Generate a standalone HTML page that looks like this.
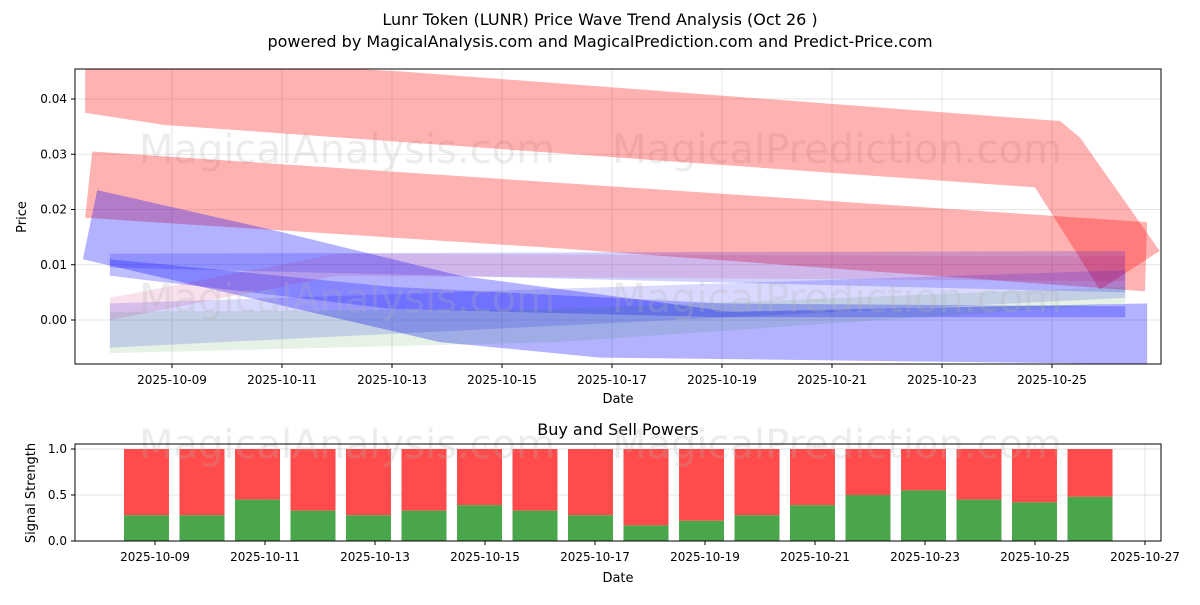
<!DOCTYPE html>
<html><head><meta charset="utf-8"><style>
body{margin:0;background:#fff}
svg{font-family:"DejaVu Sans","Liberation Sans",sans-serif}
</style></head><body>
<svg id="c" width="1200" height="600" viewBox="0 0 1200 600" xmlns="http://www.w3.org/2000/svg">
<text x="600" y="25" font-size="16" text-anchor="middle">Lunr Token (LUNR) Price Wave Trend Analysis (Oct 26 )</text>
<text x="600" y="47" font-size="16" text-anchor="middle">powered by MagicalAnalysis.com and MagicalPrediction.com and Predict-Price.com</text>
<defs><clipPath id="cp1"><rect x="75" y="69" width="1086" height="295"/></clipPath></defs>
<g id="pricePanel"></g>
<g id="signalPanel"></g>
</svg>
<script>
// price chart data (x = day of October 2025, y = price)
const priceTicks=[0.00,0.01,0.02,0.03,0.04];
const dateTicksTop=[9,11,13,15,17,19,21,23,25];
const bands=[
 {c:'rgba(255,0,0,0.3)',n:'red-wave-upper',up:[[7.42,0.048],[13.15,0.045],[25.15,0.036],[25.51,0.033],[26.96,0.0125]],lo:[[7.42,0.0375],[8.87,0.0353],[24.69,0.024],[25.87,0.0055],[26.96,0.0125]]},
 {c:'rgba(255,0,0,0.3)',n:'red-wave-lower',up:[[7.55,0.0305],[26.73,0.0177]],lo:[[7.42,0.0185],[16,0.013],[26.69,0.0052]]},
 {c:'rgba(0,0,255,0.3)',n:'blue-wave-main',up:[[7.64,0.0235],[10.96,0.016],[14.24,0.008],[19.15,0.0015],[26.73,0.003]],lo:[[7.38,0.011],[13.87,-0.004],[16.78,-0.0068],[26.73,-0.008]]},
 {c:'rgba(0,0,255,0.18)',n:'blue-wave-a',up:[[7.87,0.012],[26.33,0.0125]],lo:[[7.87,0.0095],[26.33,0.005]]},
 {c:'rgba(0,0,255,0.25)',n:'blue-wave-b',up:[[7.87,0.011],[13,0.006],[19,0.003],[26.33,0.0025]],lo:[[7.87,0.008],[13,0.002],[19,0.0005],[26.33,0.0005]]},
 {c:'rgba(0,0,255,0.15)',n:'blue-wave-c',up:[[7.87,0.003],[26.33,0.009]],lo:[[7.87,-0.005],[26.33,0.004]]},
 {c:'rgba(0,128,0,0.1)',n:'green-wave',up:[[7.87,0.0015],[16,0.002],[26.33,0.006]],lo:[[7.87,-0.006],[16,-0.004],[26.33,0.003]]},
 {c:'rgba(200,0,100,0.12)',n:'purple-wave',up:[[7.87,0.004],[12,0.012],[26.33,0.0115]],lo:[[7.87,0.0],[12,0.008],[26.33,0.007]]}
];
// signal data
const barDays=[9,10,11,12,13,14,15,16,17,18,19,20,21,22,23,24,25,26];
const buyPower=[0.28,0.28,0.45,0.33,0.28,0.33,0.39,0.33,0.28,0.17,0.22,0.28,0.39,0.5,0.55,0.45,0.42,0.48];
const signalTicks=[0.0,0.5,1.0];
const dateTicksBot=[9,11,13,15,17,19,21,23,25,27];

const NS='http://www.w3.org/2000/svg';
function mk(p,t,a){const e=document.createElementNS(NS,t);for(const k in a)e.setAttribute(k,a[k]);p.appendChild(e);return e;}
const xT=d=>172+(d-9)*55, yT=v=>320-v*5525;
const xB=d=>146.5+(d-9)*55.5, xBt=d=>155+(d-9)*55, yB=v=>541-v*92;
const topG=document.getElementById('pricePanel'), botG=document.getElementById('signalPanel');
const fmt=d=>'2025-10-'+String(d).padStart(2,'0');

// top grid
dateTicksTop.forEach(d=>{const l=mk(topG,'line',{x1:xT(d),x2:xT(d),y1:69,y2:364,stroke:'#ddd','stroke-width':0.8});

const t=mk(topG,'text',{x:xT(d),y:384,'font-size':12,'text-anchor':'middle'});t.textContent=fmt(d);

mk(topG,'line',{x1:xT(d),x2:xT(d),y1:364,y2:368,stroke:'#000'});});
priceTicks.forEach(v=>{const l=mk(topG,'line',{x1:75,x2:1161,y1:yT(v),y2:yT(v),stroke:'#ddd','stroke-width':0.8});

const t=mk(topG,'text',{x:67,y:yT(v)+4,'font-size':12,'text-anchor':'end'});t.textContent=v.toFixed(2);

mk(topG,'line',{x1:71,x2:75,y1:yT(v),y2:yT(v),stroke:'#000'});});
const wm1=mk(topG,'text',{x:347,y:163,'font-size':40,fill:'rgba(180,180,180,0.25)','text-anchor':'middle'});wm1.textContent='MagicalAnalysis.com';

const wm2=mk(topG,'text',{x:837,y:163,'font-size':40,fill:'rgba(180,180,180,0.25)','text-anchor':'middle'});wm2.textContent='MagicalPrediction.com';

const g=mk(topG,'g',{'clip-path':'url(#cp1)'});
bands.forEach(b=>{const pts=b.up.map(p=>xT(p[0])+','+yT(p[1])).concat(b.lo.slice().reverse().map(p=>xT(p[0])+','+yT(p[1])));
const e=mk(g,'polygon',{points:pts.join(' '),fill:b.c});
});
const wm3=mk(topG,'text',{x:347,y:312,'font-size':40,fill:'rgba(180,180,180,0.25)','text-anchor':'middle'});wm3.textContent='MagicalAnalysis.com';

const wm4=mk(topG,'text',{x:837,y:312,'font-size':40,fill:'rgba(180,180,180,0.25)','text-anchor':'middle'});wm4.textContent='MagicalPrediction.com';

const f1=mk(topG,'rect',{x:75,y:69,width:1086,height:295,fill:'none',stroke:'#000'});

const xl=mk(topG,'text',{x:618,y:403,'font-size':13,'text-anchor':'middle'});xl.textContent='Date';

const yl=mk(topG,'text',{x:26,y:217,'font-size':13,'text-anchor':'middle',transform:'rotate(-90 26 217)'});yl.textContent='Price';


// bottom
const bt=mk(botG,'text',{x:618,y:435,'font-size':16,'text-anchor':'middle'});bt.textContent='Buy and Sell Powers';

dateTicksBot.forEach(d=>{const l=mk(botG,'line',{x1:xBt(d),x2:xBt(d),y1:444,y2:541,stroke:'#ddd','stroke-width':0.8});

const t=mk(botG,'text',{x:xBt(d),y:561,'font-size':12,'text-anchor':'middle'});t.textContent=fmt(d);

mk(botG,'line',{x1:xBt(d),x2:xBt(d),y1:541,y2:545,stroke:'#000'});});
signalTicks.forEach(v=>{const l=mk(botG,'line',{x1:75,x2:1161,y1:yB(v),y2:yB(v),stroke:'#ddd','stroke-width':0.8});

const t=mk(botG,'text',{x:67,y:yB(v)+4,'font-size':12,'text-anchor':'end'});t.textContent=v.toFixed(1);

mk(botG,'line',{x1:71,x2:75,y1:yB(v),y2:yB(v),stroke:'#000'});});
barDays.forEach((d,i)=>{const x=xB(d)-22.5;
const r=mk(botG,'rect',{x:x,y:yB(1),width:45,height:yB(buyPower[i])-yB(1),fill:'#ff4b4b'});

const gr=mk(botG,'rect',{x:x,y:yB(buyPower[i]),width:45,height:yB(0)-yB(buyPower[i]),fill:'#4aa64a'});
});
const wm5=mk(botG,'text',{x:347,y:458,'font-size':40,fill:'rgba(180,180,180,0.25)','text-anchor':'middle'});wm5.textContent='MagicalAnalysis.com';

const wm6=mk(botG,'text',{x:837,y:458,'font-size':40,fill:'rgba(180,180,180,0.25)','text-anchor':'middle'});wm6.textContent='MagicalPrediction.com';

const f2=mk(botG,'rect',{x:75,y:444,width:1086,height:97,fill:'none',stroke:'#000'});

const xl2=mk(botG,'text',{x:618,y:582,'font-size':13,'text-anchor':'middle'});xl2.textContent='Date';

const yl2=mk(botG,'text',{x:35,y:493,'font-size':13,'text-anchor':'middle',transform:'rotate(-90 35 493)'});yl2.textContent='Signal Strength';

</script>
</body></html>
